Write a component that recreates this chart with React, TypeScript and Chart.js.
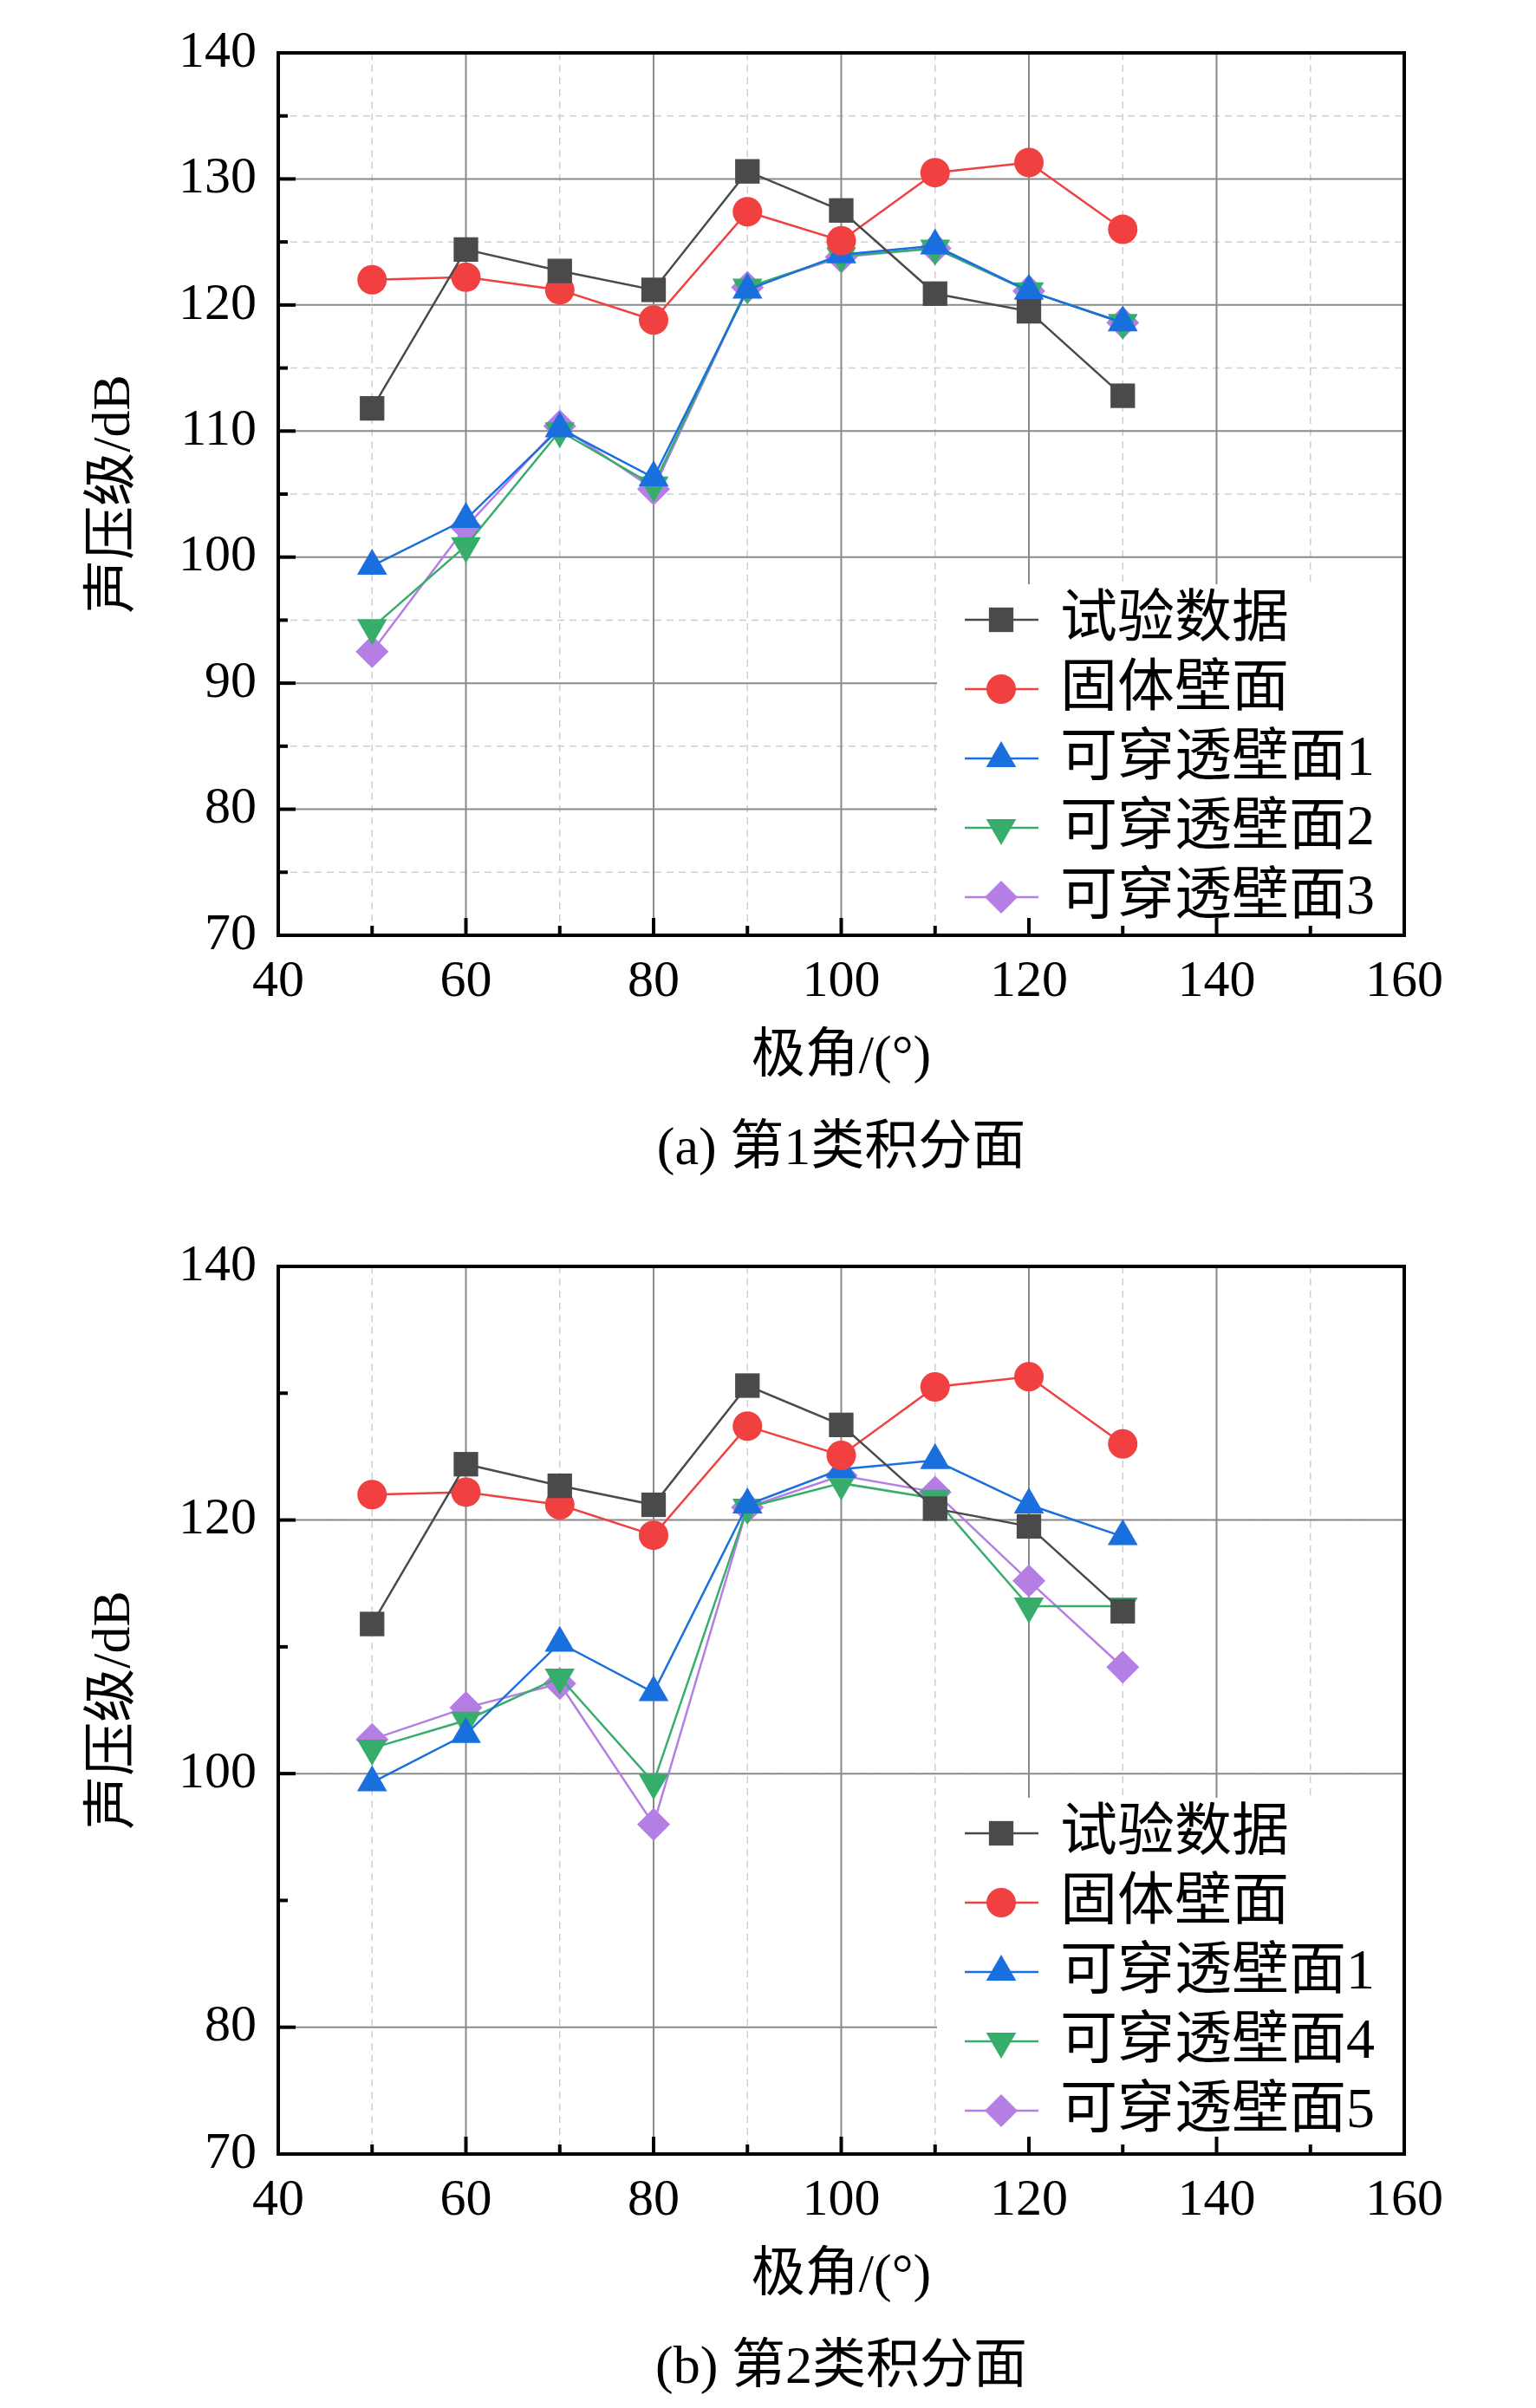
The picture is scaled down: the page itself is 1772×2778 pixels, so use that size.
import React, { useEffect, useRef } from "react";
import { Chart, registerables } from "chart.js";
Chart.register(...registerables);

const angles = [50, 60, 70, 80, 90, 100, 110, 120, 130];
const testData = [111.8, 124.4, 122.7, 121.2, 130.6, 127.5, 120.9, 119.5, 112.8];
const solidWall = [122.0, 122.2, 121.2, 118.8, 127.4, 125.1, 130.5, 131.3, 126.0];
const perm1 = [99.3, 103.0, 110.2, 106.3, 121.2, 124.0, 124.7, 121.1, 118.6];
const perm2 = [94.4, 100.9, 110.0, 105.7, 121.4, 123.9, 124.5, 121.1, 118.6];
const perm3 = [92.5, 102.4, 110.4, 105.4, 121.4, 123.8, 124.5, 121.1, 118.6];
const perm1b = [99.3, 103.1, 110.3, 106.4, 121.2, 124.0, 124.7, 121.2, 118.7];
const perm4 = [102.0, 104.2, 107.6, 99.3, 121.0, 122.9, 121.7, 113.2, 113.2];
const perm5 = [102.7, 105.2, 107.1, 96.0, 121.0, 123.5, 122.2, 115.2, 108.4];

const labels1 = ["试验数据", "固体壁面", "可穿透壁面1", "可穿透壁面2", "可穿透壁面3"];
const labels2 = ["试验数据", "固体壁面", "可穿透壁面1", "可穿透壁面4", "可穿透壁面5"];
const colors = ["#4a4a4a", "#f04040", "#1a6fdf", "#37ad6b", "#b47ee5"];
const markers = ["rect", "circle", "triangle", "triangle", "rectRot"];
const rotations = [0, 0, 0, 180, 0];
const radii = [20, 17, 20, 20, 19];

const SERIF = "'Liberation Serif', 'Times New Roman', serif";
const CJK = "'Liberation Serif', 'Noto Sans CJK SC', serif";

function drawMarker(ctx: CanvasRenderingContext2D, style: string, x: number, y: number, r: number, rot: number) {
  ctx.save();
  ctx.translate(x, y);
  ctx.rotate((rot * Math.PI) / 180);
  ctx.beginPath();
  if (style === "rect") { const s = r * Math.SQRT1_2 * 2; ctx.rect(-s / 2, -s / 2, s, s); }
  else if (style === "circle") ctx.arc(0, 0, r, 0, Math.PI * 2);
  else if (style === "triangle") { ctx.moveTo(0, -r); ctx.lineTo(r * 0.866, r * 0.5); ctx.lineTo(-r * 0.866, r * 0.5); ctx.closePath(); }
  else { ctx.moveTo(0, -r); ctx.lineTo(r, 0); ctx.lineTo(0, r); ctx.lineTo(-r, 0); ctx.closePath(); }
  ctx.fill();
  ctx.restore();
}

function makeChart(canvas: HTMLCanvasElement, series: number[][], names: string[], yStep: number, caption: string, padTop: number, xHeight: number) {
  const overlay = {
    id: "overlay",
    beforeDatasetsDraw(chart: any) {
      const { ctx, chartArea: a, scales } = chart;
      const xs = scales.x, ys = scales.y;
      ctx.save();
      ctx.strokeStyle = "#cfcfcf"; ctx.lineWidth = 1.5; ctx.setLineDash([8, 6]);
      for (let v = 50; v < 160; v += 20) { const p = xs.getPixelForValue(v); ctx.beginPath(); ctx.moveTo(p, a.top); ctx.lineTo(p, a.bottom); ctx.stroke(); }
      for (let v = 70 + yStep / 2; v < 140; v += yStep) { const p = ys.getPixelForValue(v); ctx.beginPath(); ctx.moveTo(a.left, p); ctx.lineTo(a.right, p); ctx.stroke(); }
      ctx.setLineDash([]);
      ctx.strokeStyle = "#8a8a8a"; ctx.lineWidth = 2;
      for (let v = 60; v < 160; v += 20) { const p = xs.getPixelForValue(v); ctx.beginPath(); ctx.moveTo(p, a.top); ctx.lineTo(p, a.bottom); ctx.stroke(); }
      for (let v = 80; v < 140; v += yStep) { const p = ys.getPixelForValue(v); ctx.beginPath(); ctx.moveTo(a.left, p); ctx.lineTo(a.right, p); ctx.stroke(); }
      ctx.fillStyle = "#ffffff";
      ctx.fillRect(a.left + 760, a.top + 613, a.right - a.left - 760, 420);
      ctx.strokeStyle = "#000"; ctx.lineWidth = 4;
      ctx.strokeRect(a.left, a.top, a.right - a.left, a.bottom - a.top);
      for (let v = 50; v < 160; v += 10) { const p = xs.getPixelForValue(v); const L = v % 20 === 0 ? 20 : 11; ctx.beginPath(); ctx.moveTo(p, a.bottom); ctx.lineTo(p, a.bottom - L); ctx.stroke(); }
      for (let v = 70 + yStep / 2; v < 140; v += yStep / 2) {
        const p = ys.getPixelForValue(v);
        const major = Math.abs(((v - 80) / yStep) - Math.round((v - 80) / yStep)) < 1e-6;
        const L = major ? 20 : 11;
        ctx.beginPath(); ctx.moveTo(a.left, p); ctx.lineTo(a.left + L, p); ctx.stroke();
      }
      ctx.restore();
    },
    afterDatasetsDraw(chart: any) {
      const { ctx, chartArea: a } = chart;
      ctx.save();
      names.forEach((n, i) => {
        const y = a.top + 654 + i * 80;
        const x0 = a.left + 792;
        ctx.strokeStyle = colors[i]; ctx.lineWidth = 2.5;
        ctx.beginPath(); ctx.moveTo(x0, y); ctx.lineTo(x0 + 85, y); ctx.stroke();
        ctx.fillStyle = colors[i];
        drawMarker(ctx, markers[i], x0 + 42, y, radii[i], rotations[i]);
        ctx.fillStyle = "#000"; ctx.font = `66px ${CJK}`; ctx.textBaseline = "middle"; ctx.textAlign = "left";
        ctx.fillText(n, x0 + 110, y + 2);
      });
      ctx.fillStyle = "#000"; ctx.textAlign = "center"; ctx.textBaseline = "middle";
      ctx.font = `62px ${CJK}`;
      ctx.fillText("极角/(°)", (a.left + a.right) / 2, a.bottom + 142);
      ctx.fillText(caption, (a.left + a.right) / 2, a.bottom + 248);
      ctx.save();
      ctx.translate(133, (a.top + a.bottom) / 2); ctx.rotate(-Math.PI / 2);
      ctx.fillText("声压级/dB", 0, 0);
      ctx.restore();
      ctx.restore();
    },
  };

  return new Chart(canvas, {
    type: "line",
    data: {
      datasets: series.map((s, i) => ({
        label: names[i],
        data: s.map((v, k) => ({ x: angles[k], y: v })),
        borderColor: colors[i],
        backgroundColor: colors[i],
        borderWidth: 2.5,
        pointStyle: markers[i] as any,
        pointRotation: rotations[i],
        pointRadius: radii[i],
        pointBorderWidth: 0,
        tension: 0,
      })),
    },
    options: {
      animation: false,
      responsive: false,
      devicePixelRatio: 1,
      layout: { padding: { left: 0, right: 152, top: padTop, bottom: 0 } },
      plugins: { legend: { display: false }, tooltip: { enabled: false } },
      scales: {
        x: {
          type: "linear", min: 40, max: 160,
          ticks: { stepSize: 20, padding: 18, color: "#000", font: { family: SERIF, size: 60 } },
          grid: { display: false, drawTicks: false }, border: { display: false },
          afterFit(s: any) { s.height = xHeight; },
        },
        y: {
          min: 70, max: 140,
          ticks: { stepSize: yStep, padding: 25, color: "#000", font: { family: SERIF, size: 60 } },
          grid: { display: false, drawTicks: false }, border: { display: false },
          afterFit(s: any) { s.width = 321; },
        },
      },
    } as any,
    plugins: [overlay],
  });
}

function Panel({ series, names, yStep, caption, top, height, padTop, xHeight }: any) {
  const ref = useRef<HTMLCanvasElement>(null);
  useEffect(() => {
    const c = makeChart(ref.current!, series, names, yStep, caption, padTop, xHeight);
    return () => c.destroy();
  }, []);
  return <canvas ref={ref} width={1772} height={height} style={{ position: "absolute", left: 0, top, width: 1772, height }} />;
}

export default function App() {
  useEffect(() => { document.body.style.margin = "0"; document.body.style.background = "#fff"; }, []);
  return (
    <div style={{ position: "relative", width: 1772, height: 2778, background: "#fff" }}>
      <Panel series={[testData, solidWall, perm1, perm2, perm3]} names={labels1} yStep={10} caption="(a) 第1类积分面" top={0} height={1400} padTop={7} xHeight={321} />
      <Panel series={[testData, solidWall, perm1b, perm4, perm5]} names={labels2} yStep={20} caption="(b) 第2类积分面" top={1400} height={1378} padTop={21} xHeight={293} />
    </div>
  );
}
